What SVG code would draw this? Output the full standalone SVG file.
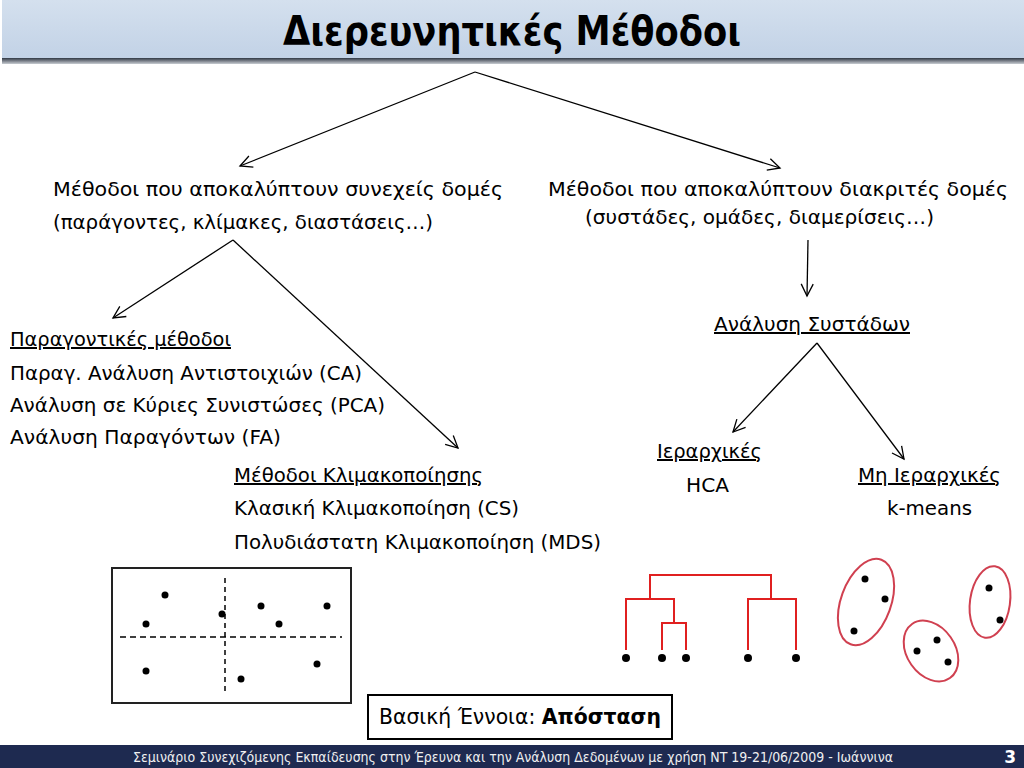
<svg xmlns="http://www.w3.org/2000/svg" width="1024" height="768" viewBox="0 0 1024 768">
<defs>
<linearGradient id="tg" x1="0" y1="0" x2="0" y2="1">
<stop offset="0" stop-color="#d4e0ee"/>
<stop offset="1" stop-color="#c2d2e6"/>
</linearGradient>
<linearGradient id="sg" x1="0" y1="0" x2="0" y2="1">
<stop offset="0" stop-color="#303845"/>
<stop offset="1" stop-color="#c8ccd2"/>
</linearGradient>
<marker id="ah" markerUnits="userSpaceOnUse" markerWidth="16" markerHeight="16" refX="13" refY="7" orient="auto" viewBox="0 0 16 14">
<path d="M1,1 L13,7 L1,13" fill="none" stroke="#000" stroke-width="1.3"/>
</marker>
<style>
.t{font-family:"DejaVu Sans","Noto Sans",sans-serif;font-size:20px;fill:#000}
.u{text-decoration:underline}
.c{stroke:#000;stroke-width:1.3;fill:none;marker-end:url(#ah)}
.d{fill:#000}
.r{stroke:#e02020;stroke-width:2;fill:none}
.e{stroke:#d04050;stroke-width:2;fill:none}
</style>
</defs>
<rect width="1024" height="768" fill="#fff"/>
<g id="title">
<rect x="2" y="0" width="1022" height="58" fill="url(#tg)"/>
<rect x="2" y="58" width="1022" height="6" fill="url(#sg)"/>
<text x="283" y="45" font-family="DejaVu Sans Condensed,DejaVu Sans,sans-serif" font-weight="bold" font-size="40" textLength="458" lengthAdjust="spacingAndGlyphs">Διερευνητικές Μέθοδοι</text>
</g>
<g id="connectors">
<line class="c" x1="475" y1="72" x2="240" y2="166"/>
<line class="c" x1="475" y1="72" x2="780" y2="168"/>
<line class="c" x1="233" y1="240" x2="113" y2="318"/>
<line class="c" x1="233" y1="240" x2="458" y2="448"/>
<line class="c" x1="808" y1="240" x2="807" y2="296"/>
<line class="c" x1="817" y1="343" x2="733" y2="432"/>
<line class="c" x1="817" y1="343" x2="904" y2="459"/>
</g>
<g id="continuous">
<text class="t" x="53" y="196" textLength="450" lengthAdjust="spacingAndGlyphs">Μέθοδοι που αποκαλύπτουν συνεχείς δομές</text>
<text class="t" x="53" y="229" textLength="380" lengthAdjust="spacingAndGlyphs">(παράγοντες, κλίμακες, διαστάσεις…)</text>
</g>
<g id="discrete">
<text class="t" x="548" y="196" textLength="460" lengthAdjust="spacingAndGlyphs">Μέθοδοι που αποκαλύπτουν διακριτές δομές</text>
<text class="t" x="585" y="224" textLength="349" lengthAdjust="spacingAndGlyphs">(συστάδες, ομάδες, διαμερίσεις…)</text>
</g>
<g id="factor">
<text class="t u" x="10" y="346" textLength="221" lengthAdjust="spacingAndGlyphs">Παραγοντικές μέθοδοι</text>
<text class="t" x="10" y="380" textLength="352" lengthAdjust="spacingAndGlyphs">Παραγ. Ανάλυση Αντιστοιχιών (CA)</text>
<text class="t" x="10" y="412" textLength="375" lengthAdjust="spacingAndGlyphs">Ανάλυση σε Κύριες Συνιστώσες (PCA)</text>
<text class="t" x="10" y="444" textLength="271" lengthAdjust="spacingAndGlyphs">Ανάλυση Παραγόντων (FA)</text>
</g>
<g id="scaling">
<text class="t u" x="234" y="482" textLength="249" lengthAdjust="spacingAndGlyphs">Μέθοδοι Κλιμακοποίησης</text>
<text class="t" x="234" y="515" textLength="285" lengthAdjust="spacingAndGlyphs">Κλασική Κλιμακοποίηση (CS)</text>
<text class="t" x="234" y="549" textLength="367" lengthAdjust="spacingAndGlyphs">Πολυδιάστατη Κλιμακοποίηση (MDS)</text>
</g>
<g id="cluster">
<text class="t u" x="714" y="331" textLength="196" lengthAdjust="spacingAndGlyphs">Ανάλυση Συστάδων</text>
</g>
<g id="hier">
<text class="t u" x="657" y="458" textLength="105" lengthAdjust="spacingAndGlyphs">Ιεραρχικές</text>
<text class="t" x="686" y="492" textLength="43" lengthAdjust="spacingAndGlyphs">HCA</text>
</g>
<g id="nonhier">
<text class="t u" x="858" y="482" textLength="143" lengthAdjust="spacingAndGlyphs">Μη Ιεραρχικές</text>
<text class="t" x="887" y="515" textLength="85" lengthAdjust="spacingAndGlyphs">k-means</text>
</g>
<g id="scatter">
<rect x="112" y="568" width="239" height="135" fill="#fff" stroke="#222" stroke-width="2"/>
<line x1="225" y1="578" x2="225" y2="693" stroke="#000" stroke-width="1.5" stroke-dasharray="5,4"/>
<line x1="120" y1="637" x2="342" y2="637" stroke="#000" stroke-width="1.5" stroke-dasharray="6,4"/>
<circle class="d" cx="165" cy="595" r="3.5"/>
<circle class="d" cx="146" cy="624" r="3.5"/>
<circle class="d" cx="222" cy="614" r="3.5"/>
<circle class="d" cx="261" cy="606" r="3.5"/>
<circle class="d" cx="327" cy="606" r="3.5"/>
<circle class="d" cx="279" cy="624" r="3.5"/>
<circle class="d" cx="146" cy="671" r="3.5"/>
<circle class="d" cx="317" cy="664" r="3.5"/>
<circle class="d" cx="241" cy="679" r="3.5"/>
</g>
<g id="dendrogram">
<path class="r" d="M650,599 V575 H771 V599"/>
<path class="r" d="M626,650 V599 H674 V623"/>
<path class="r" d="M662,650 V623 H686 V650"/>
<path class="r" d="M748,650 V599 H796 V650"/>
<circle class="d" cx="626" cy="658" r="4"/>
<circle class="d" cx="662" cy="658" r="4"/>
<circle class="d" cx="686" cy="658" r="4"/>
<circle class="d" cx="748" cy="658" r="4"/>
<circle class="d" cx="796" cy="658" r="4"/>
</g>
<g id="kmeans">
<ellipse class="e" cx="866" cy="602" rx="25" ry="45" transform="rotate(20 866 602)"/>
<ellipse class="e" cx="931" cy="651" rx="24" ry="33" transform="rotate(-35 931 651)"/>
<ellipse class="e" cx="990" cy="602" rx="20" ry="36" transform="rotate(8 990 602)"/>
<circle class="d" cx="865" cy="579" r="3.5"/>
<circle class="d" cx="885" cy="599" r="3.5"/>
<circle class="d" cx="854" cy="631" r="3.5"/>
<circle class="d" cx="937" cy="640" r="3.5"/>
<circle class="d" cx="917" cy="651" r="3.5"/>
<circle class="d" cx="948" cy="662" r="3.5"/>
<circle class="d" cx="989" cy="588" r="3.5"/>
<circle class="d" cx="1000" cy="620" r="3.5"/>
</g>
<g id="concept">
<rect x="368" y="695" width="304" height="44" fill="#fff" stroke="#000" stroke-width="2"/>
<text x="379" y="724" font-family="DejaVu Sans,sans-serif" font-size="21" textLength="282" lengthAdjust="spacingAndGlyphs">Βασική Έννοια: <tspan font-weight="bold">Απόσταση</tspan></text>
</g>
<g id="footer">
<rect x="0" y="745" width="1024" height="23" fill="#1e2a50"/>
<text x="133" y="762" font-family="DejaVu Sans Condensed,DejaVu Sans,sans-serif" font-size="14" fill="#f0f0f0" textLength="760" lengthAdjust="spacingAndGlyphs">Σεμινάριο Συνεχιζόμενης Εκπαίδευσης στην Έρευνα και την Ανάλυση Δεδομένων με χρήση ΝΤ  19-21/06/2009 - Ιωάννινα</text>
<text x="1016" y="763" text-anchor="end" font-family="DejaVu Sans,sans-serif" font-weight="bold" font-size="17" fill="#fff">3</text>
</g>
</svg>
